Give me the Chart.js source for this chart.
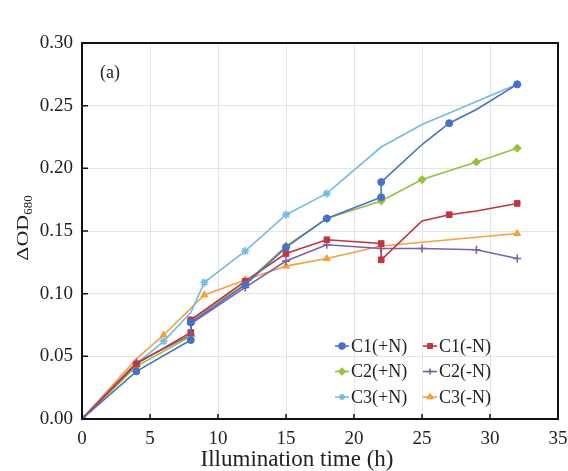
<!DOCTYPE html>
<html>
<head>
<meta charset="utf-8">
<script src="https://cdn.jsdelivr.net/npm/chart.js@4.4.1/dist/chart.umd.min.js"></script>
<style>
  body { margin: 0; background: #fff; }
  #wrap { width: 568px; height: 471px; }
</style>
</head>
<body>
<div id="wrap"><canvas id="odChart" width="568" height="471"></canvas></div>
<script>
// series data (x = illumination time in h, y = ΔOD680)
const seriesNames = ['C1(+N)', 'C1(-N)', 'C2(+N)', 'C2(-N)', 'C3(+N)', 'C3(-N)'];

const c1PlusX  = [0, 4, 8, 8, 12, 15, 18, 22, 22, 25, 27, 29, 32];
const c1PlusY  = [0, 0.038, 0.063, 0.077, 0.107, 0.137, 0.160, 0.177, 0.189, 0.219, 0.236, 0.247, 0.267];
const c1MinusX = [0, 4, 8, 8, 12, 15, 18, 22, 22, 25, 27, 29, 32];
const c1MinusY = [0, 0.044, 0.069, 0.079, 0.110, 0.132, 0.143, 0.140, 0.127, 0.158, 0.163, 0.166, 0.172];
const c2PlusX  = [0, 4, 8, 8, 12, 15, 18, 22, 25, 29, 32];
const c2PlusY  = [0, 0.042, 0.066, 0.079, 0.108, 0.138, 0.160, 0.174, 0.191, 0.205, 0.216];
const c2MinusX = [0, 4, 8, 8, 12, 15, 18, 22, 25, 29, 32];
const c2MinusY = [0, 0.045, 0.067, 0.076, 0.105, 0.126, 0.139, 0.136, 0.136, 0.135, 0.128];
const c3PlusX  = [0, 4, 6, 8, 9, 12, 15, 18, 22, 25, 32];
const c3PlusY  = [0, 0.044, 0.062, 0.085, 0.109, 0.134, 0.163, 0.180, 0.217, 0.235, 0.267];
const c3MinusX = [0, 4, 6, 9, 12, 15, 18, 22, 32];
const c3MinusY = [0, 0.048, 0.067, 0.099, 0.111, 0.122, 0.128, 0.138, 0.148];

const xTicks = [0, 5, 10, 15, 20, 25, 30, 35];
const yTicks = [0, 0.05, 0.10, 0.15, 0.20, 0.25, 0.30];

const serif = "'Liberation Serif', 'Times New Roman', serif";

function pts(xs, ys) {
  return xs.map((x, i) => ({ x: x, y: ys[i] }));
}

// points where the original draws a bend without a marker
function makeSet(color, style, xs, ys, bare) {
  const r = style === 'circle' ? 3.5 : 4;
  return {
    data: pts(xs, ys),
    borderColor: color,
    backgroundColor: color,
    borderWidth: 1.6,
    pointStyle: style,
    pointBorderWidth: style === 'cross' || style === 'star' ? 1.6 : 1,
    pointRadius: ctx => (bare.includes(ctx.dataIndex) ? 0 : r),
    showLine: true,
    tension: 0
  };
}

const datasets = [
  makeSet('#4a6fc7', 'circle', c1PlusX, c1PlusY, [9, 11]),
  makeSet('#c1353d', 'rect', c1MinusX, c1MinusY, [9, 11]),
  makeSet('#94c23f', 'rectRot', c2PlusX, c2PlusY, []),
  makeSet('#7d60a8', 'cross', c2MinusX, c2MinusY, []),
  makeSet('#74bbe6', 'star', c3PlusX, c3PlusY, [3, 8, 9]),
  makeSet('#f6a03c', 'triangle', c3MinusX, c3MinusY, [1, 7])
];
datasets.forEach((d, i) => { d.label = seriesNames[i]; });

// frame, inner ticks, panel label, axis titles and legend
const decor = {
  id: 'decor',
  afterDraw(chart) {
    const { ctx, chartArea: a, scales } = chart;
    ctx.save();
    ctx.strokeStyle = '#111';
    ctx.lineWidth = 2;
    ctx.strokeRect(a.left, a.top, a.right - a.left, a.bottom - a.top);
    ctx.lineWidth = 1.5;
    ctx.beginPath();
    xTicks.forEach(v => {
      const x = scales.x.getPixelForValue(v);
      ctx.moveTo(x, a.bottom); ctx.lineTo(x, a.bottom - 5);
    });
    yTicks.forEach(v => {
      const y = scales.y.getPixelForValue(v);
      ctx.moveTo(a.left, y); ctx.lineTo(a.left + 6, y);
    });
    ctx.stroke();

    ctx.fillStyle = '#222';
    ctx.font = '18px ' + serif;
    ctx.textBaseline = 'middle';
    ctx.textAlign = 'left';
    ctx.fillText('(a)', 100, 73);

    // x axis title
    ctx.save();
    ctx.textAlign = 'center';
    ctx.textBaseline = 'alphabetic';
    ctx.font = '23px ' + serif;
    ctx.fillText('Illumination time (h)', 297, 466);
    ctx.restore();

    // y axis title with subscript
    ctx.save();
    ctx.translate(23, 228);
    ctx.rotate(-Math.PI / 2);
    ctx.font = '22px ' + serif;
    const main = 'ΔOD';
    const w1 = ctx.measureText(main).width;
    ctx.font = '13px ' + serif;
    const w2 = ctx.measureText('680').width;
    const start = -(w1 + w2) / 2;
    ctx.save();
    ctx.scale(1, 0.8);
    ctx.font = '22px ' + serif;
    ctx.fillText(main, start, 0);
    ctx.restore();
    ctx.font = '13px ' + serif;
    ctx.fillText('680', start + w1, 6);
    ctx.restore();

    // legend, two columns
    ctx.font = '18px ' + serif;
    chart.data.datasets.forEach((d, i) => {
      const col = i % 2, row = Math.floor(i / 2);
      const cx = 342 + col * 88;
      const cy = 346 + row * 25.5;
      ctx.strokeStyle = d.borderColor;
      ctx.fillStyle = d.backgroundColor;
      ctx.lineWidth = 1.6;
      ctx.beginPath();
      ctx.moveTo(cx - 7, cy); ctx.lineTo(cx + 7, cy);
      ctx.stroke();
      Chart.helpers.drawPoint(ctx, {
        pointStyle: d.pointStyle, radius: 3, rotation: 0,
        borderWidth: d.pointBorderWidth
      }, cx, cy);
      ctx.fillStyle = '#222';
      ctx.fillText(d.label, cx + 9, cy + 1);
    });
    ctx.restore();
  }
};

new Chart(document.getElementById('odChart').getContext('2d'), {
  type: 'scatter',
  data: { datasets: datasets },
  options: {
    responsive: false,
    animation: false,
    layout: { padding: { top: 43, right: 0, left: 0, bottom: 0 } },
    plugins: { legend: { display: false }, tooltip: { enabled: false } },
    scales: {
      x: {
        type: 'linear',
        min: 0, max: 35,
        afterBuildTicks: s => { s.ticks = xTicks.map(v => ({ value: v })); },
        afterFit: s => { s.height = 52; s.paddingRight = 10; s.paddingLeft = 0; },
        grid: { color: '#e4e4e4', drawTicks: false },
        border: { display: false },
        ticks: { padding: 9, color: '#222', font: { family: serif, size: 19 } }
      },
      y: {
        min: 0, max: 0.30,
        afterBuildTicks: s => { s.ticks = yTicks.map(v => ({ value: v })); },
        afterFit: s => { s.width = 82; },
        grid: { color: '#e4e4e4', drawTicks: false },
        border: { display: false },
        ticks: {
          padding: 9, color: '#222', font: { family: serif, size: 19 },
          callback: v => v.toFixed(2)
        }
      }
    }
  },
  plugins: [decor]
});
</script>
</body>
</html>
